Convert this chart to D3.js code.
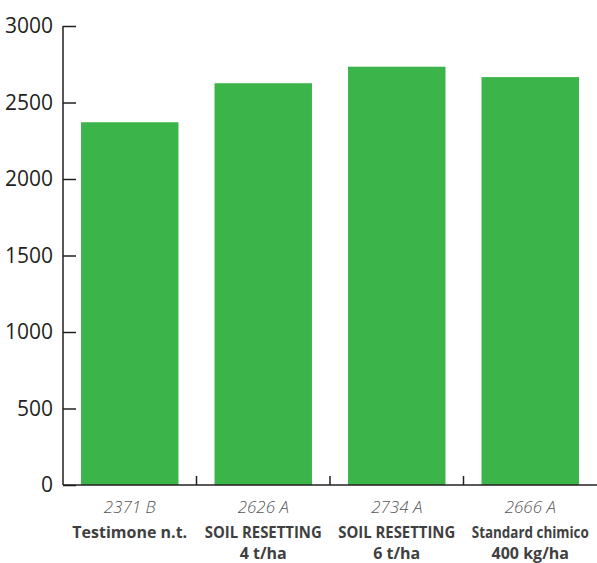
<!DOCTYPE html>
<html>
<head>
<meta charset="utf-8">
<script src="https://cdn.jsdelivr.net/npm/d3@7"></script>
<style>
  body { margin: 0; background: #fff; }
  svg { display: block; }
</style>
</head>
<body>
<svg class="chart" width="597" height="563"></svg>
<script>
const categories = ['Testimone n.t.', 'SOIL RESETTING 4 t/ha', 'SOIL RESETTING 6 t/ha', 'Standard chimico 400 kg/ha']
const labelLines = [['Testimone n.t.'], ['SOIL RESETTING', '4 t/ha'], ['SOIL RESETTING', '6 t/ha'], ['Standard chimico', '400 kg/ha']]
const values = [2371, 2626, 2734, 2666]
const letters = ['B', 'A', 'A', 'A']
const yTicks = [0, 500, 1000, 1500, 2000, 2500, 3000]

const margin = { top: 26, right: 0, bottom: 78, left: 63 }
const width = 597
const height = 563
const innerWidth = width - margin.left - margin.right
const innerHeight = height - margin.top - margin.bottom
const maxLabelWidth = 117

const svg = d3.select('svg.chart')
const g = svg.append('g').attr('transform', `translate(${margin.left},${margin.top})`)

const x = d3.scaleBand().domain(categories).range([0, innerWidth]).paddingInner(0.27).paddingOuter(0.135)
const y = d3.scaleLinear().domain([0, 3000]).range([innerHeight, 0])

g.selectAll('rect.bar')
  .data(categories)
  .enter().append('rect')
  .attr('class', 'bar')
  .attr('x', d => x(d))
  .attr('width', x.bandwidth())
  .attr('y', (d, i) => y(values[i]))
  .attr('height', (d, i) => innerHeight - y(values[i]))
  .style('fill', '#3bb54a')

const yAxis = g.append('g')
  .call(d3.axisLeft(y).tickValues(yTicks).tickSize(-13).tickPadding(10).tickFormat(d3.format('d')))
yAxis.select('.domain').attr('d', `M0,${innerHeight}V0`).attr('stroke', '#231f20').attr('stroke-width', 1.5)
yAxis.selectAll('.tick line').attr('stroke', '#231f20').attr('stroke-width', 1.5)
yAxis.selectAll('.tick text')
  .style('font-family', '"Open Sans", "Noto Sans", sans-serif')
  .style('font-size', '21px')
  .style('fill', '#231f20')

// x axis baseline with separators between bands
const step = x.step()
const sep = d3.range(1, categories.length).map(i => i * step)
const xAxis = g.append('g').attr('transform', `translate(0,${innerHeight})`)
xAxis.append('line').attr('x1', 0).attr('x2', innerWidth).attr('stroke', '#231f20').attr('stroke-width', 1.5)
xAxis.selectAll('line.sep').data(sep).enter().append('line')
  .attr('class', 'sep')
  .attr('x1', d => d).attr('x2', d => d)
  .attr('y1', 0).attr('y2', -9)
  .attr('stroke', '#231f20').attr('stroke-width', 1.5)

const cx = d => x(d) + x.bandwidth() / 2

xAxis.selectAll('text.val').data(categories).enter().append('text')
  .attr('class', 'val')
  .attr('x', cx)
  .attr('y', 28)
  .attr('text-anchor', 'middle')
  .style('font-family', '"Open Sans", "Noto Sans", sans-serif')
  .style('font-style', 'italic')
  .style('font-weight', 300)
  .style('font-size', '17px')
  .style('fill', '#555')
  .text((d, i) => `${values[i]} ${letters[i]}`)

const lab = xAxis.selectAll('text.cat').data(categories).enter().append('text')
  .attr('class', 'cat')
  .attr('x', cx)
  .attr('y', 53)
  .attr('text-anchor', 'middle')
  .style('font-family', '"Open Sans", "Noto Sans", sans-serif')
  .style('font-weight', 'bold')
  .style('font-size', '16px')
  .style('fill', '#3f3f3f')
lab.selectAll('tspan').data((d, i) => labelLines[i]).enter().append('tspan')
  .attr('x', function () { return d3.select(this.parentNode).attr('x') })
  .attr('dy', (d, i) => i === 0 ? 0 : 21)
  .text(d => d)
  .each(function () {
    if (this.getComputedTextLength() > maxLabelWidth) {
      d3.select(this).attr('textLength', maxLabelWidth).attr('lengthAdjust', 'spacingAndGlyphs')
    }
  })
</script>
</body>
</html>
